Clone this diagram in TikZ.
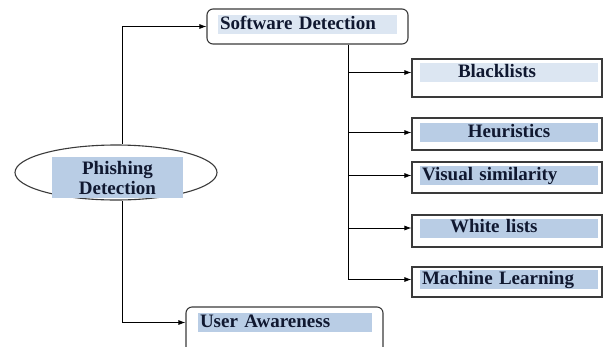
\documentclass[tikz,border=0pt]{standalone}
\usepackage{fontspec}
\setmainfont{Liberation Serif}
\usetikzlibrary{arrows.meta,positioning,shapes.geometric}
\definecolor{hldark}{HTML}{B9CDE5}
\definecolor{hllight}{HTML}{DCE6F2}
\definecolor{framegray}{HTML}{3A3A3A}
\definecolor{inkblue}{HTML}{101830}

\begin{document}
\begin{tikzpicture}[
  x=1pt, y=-1pt,
  every node/.style={font=\fontsize{19}{20}\selectfont\bfseries, inner sep=0pt, text=inkblue},
  topbox/.style={draw=framegray, line width=1.1pt, rounded corners=6pt},
  leaf/.style={draw=framegray, line width=1.1pt, minimum width=190pt},
  hl/.style={fill=hldark, inner xsep=2pt, inner ysep=1pt},
  oneline/.style={text height=13pt, text depth=4pt},
  arrow/.style={-{Latex[length=7pt,width=5pt]}, line width=0.8pt}
]
\clip (0,0) rectangle (609,346);

% root
\node[draw=framegray, ellipse, line width=1.1pt, minimum width=202pt, minimum height=55pt] (pd) at (116,172.5) {};
\node[hl, text width=127pt, minimum height=41pt, align=center] (pd-txt) at (117.5,177.5) {Phishing\\Detection};

% first level
\node[topbox, minimum width=201pt, minimum height=35pt] (sd) at (307.5,26.5) {};
\node[hl, oneline, fill=hllight, text width=175pt, align=left] (sd-txt) at (307.5,24.5) {Software Detection};
\node[topbox, minimum width=197pt, minimum height=48pt] (ua) at (284.5,331) {};
\node[hl, oneline, text width=170pt, align=left] (ua-txt) at (285,322.5) {User Awareness};

% software detection methods
\node[leaf, minimum height=38pt] (bl) at (507,78) {};
\node[hl, oneline, fill=hllight, text width=174pt, align=left] (bl-txt) at (509,72.5) {\hspace*{36pt}Blacklists};
\node[leaf, minimum height=32pt] (he) at (507,134) {};
\node[hl, oneline, text width=174pt, align=center] (he-txt) at (509,132.5) {Heuristics};
\node[leaf, minimum height=31pt] (vs) at (507,177.5) {};
\node[hl, oneline, text width=174pt, align=left] (vs-txt) at (509,175.5) {Visual similarity};
\node[leaf, minimum height=32pt] (wl) at (507,231) {};
\node[hl, oneline, text width=174pt, align=left] (wl-txt) at (509,228) {\hspace*{28pt}White lists};
\node[leaf, minimum height=30pt] (ml) at (507,282) {};
\node[hl, oneline, text width=174pt, align=left] (ml-txt) at (509,279.5) {Machine Learning};

% connectors
\draw[arrow] ([xshift=6pt]pd.north) |- (sd.west);
\draw[arrow] ([xshift=6pt]pd.south) |- (ua-txt.west -| ua.west);
\coordinate (trunk) at ([xshift=40.5pt]sd.south);
\draw[arrow] (trunk) |- (ml-txt.west -| ml.west);
\draw[arrow] (trunk |- bl-txt) -- (bl-txt.west -| bl.west);
\draw[arrow] (trunk |- he-txt) -- (he-txt.west -| he.west);
\draw[arrow] (trunk |- vs-txt) -- (vs-txt.west -| vs.west);
\draw[arrow] (trunk |- wl-txt) -- (wl-txt.west -| wl.west);
\end{tikzpicture}
\end{document}
